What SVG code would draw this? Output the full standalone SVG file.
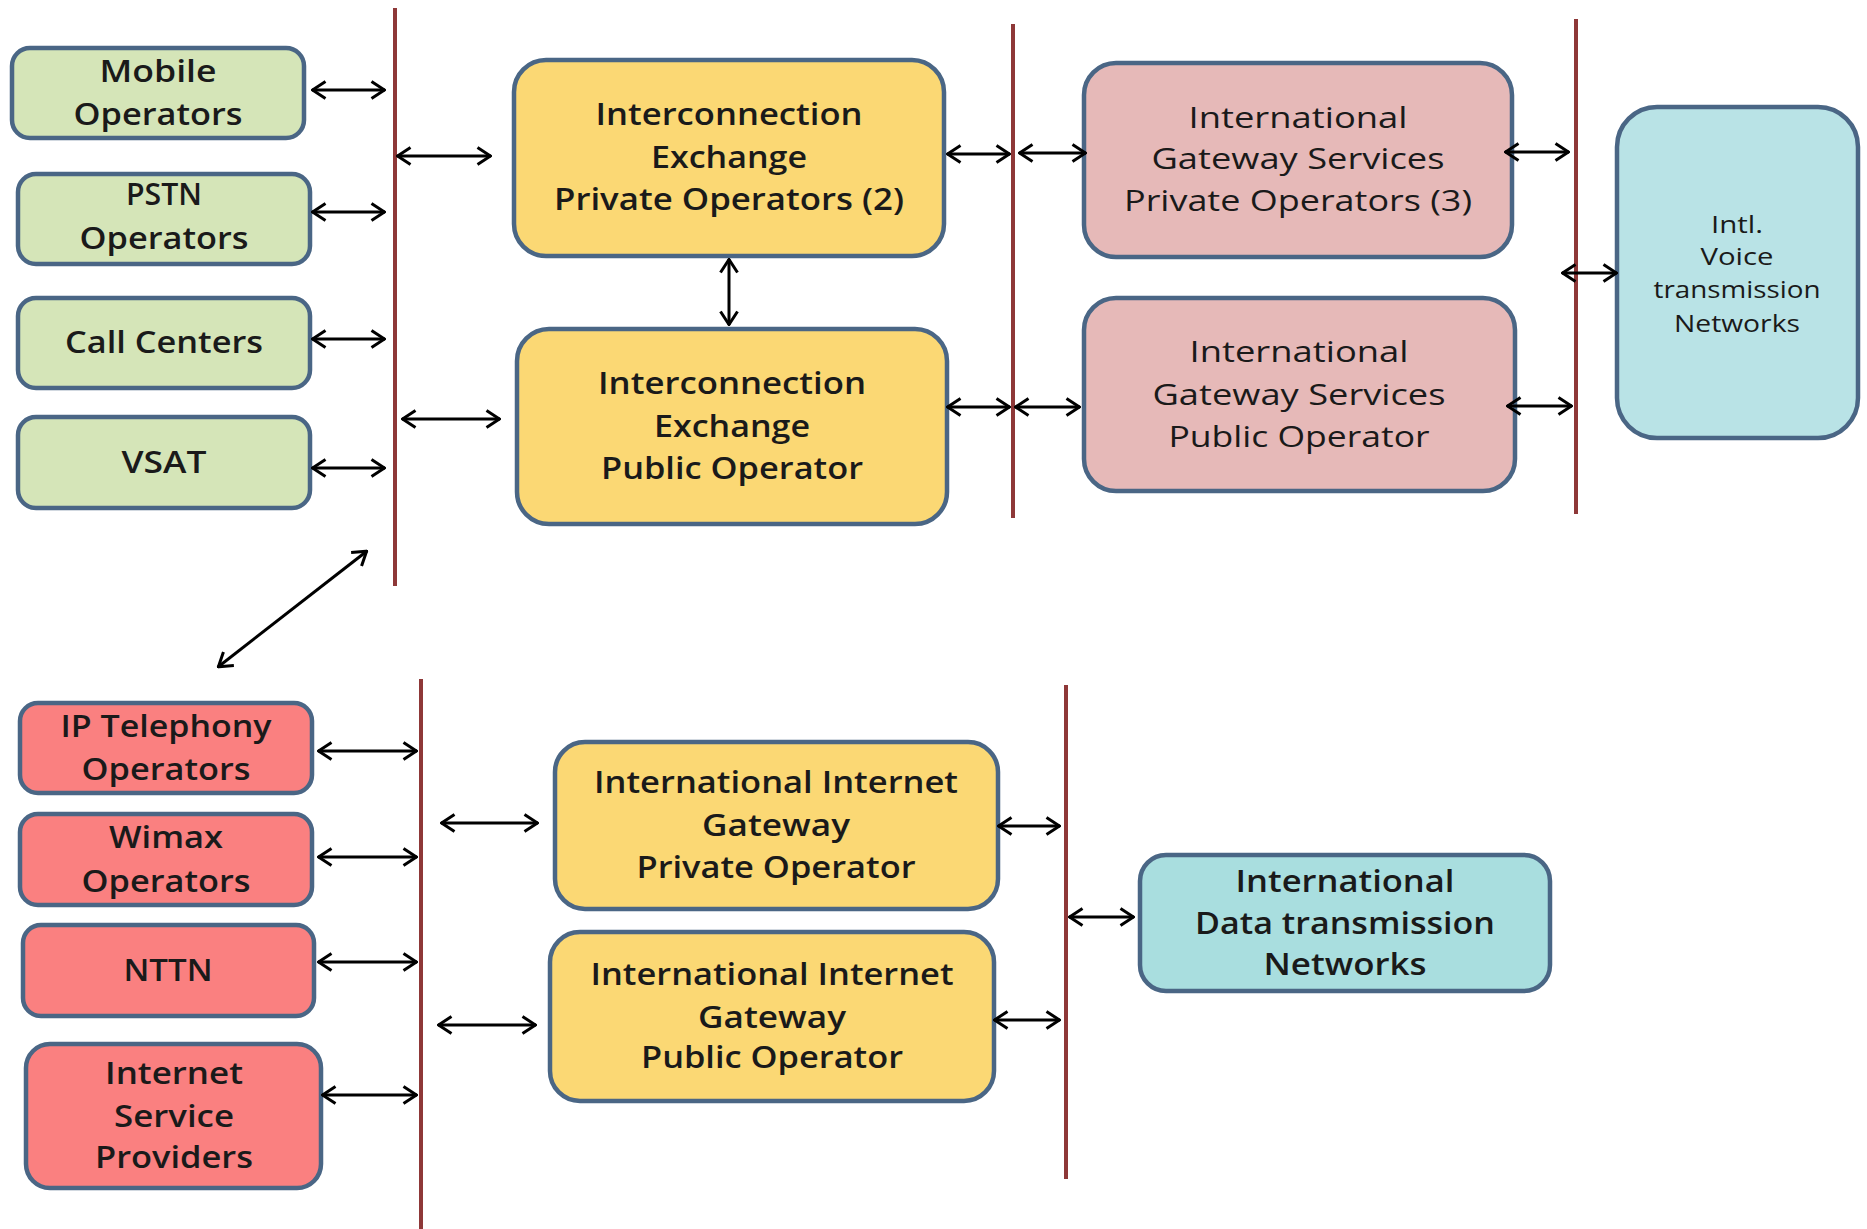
<svg xmlns="http://www.w3.org/2000/svg" width="1867" height="1229" viewBox="0 0 1867 1229">
<defs>
<style>
.box{stroke:#4A6685;stroke-width:4.5}
.g{fill:#D5E5B8}.y{fill:#FBD874}.p{fill:#E6B9B8}.t{fill:#B9E3E6}.t2{fill:#A9DEDF}.r{fill:#FA8080}
.bus{stroke:#8E3838;stroke-width:4;fill:none}
.c line{stroke:#000;stroke-width:3;marker-start:url(#ah);marker-end:url(#ah)}
text{font-family:"Open Sans","Liberation Sans",sans-serif;font-size:30px;font-weight:600;fill:#1a1a1a;text-anchor:middle}
text.n{font-weight:500;font-size:30px}
text.s{font-size:24px;font-weight:500}
</style>
<marker id="ah" viewBox="0 0 16 20" refX="15" refY="10" markerWidth="16" markerHeight="20" orient="auto-start-reverse" markerUnits="userSpaceOnUse">
<path d="M1.5,1.5 L14.5,10 L1.5,18.5" fill="none" stroke="#000" stroke-width="3"/>
</marker>
</defs>
<rect width="1867" height="1229" fill="#fff"/>

<g id="buses">
<line class="bus" x1="395" y1="8" x2="395" y2="586"/>
<line class="bus" x1="1013" y1="24" x2="1013" y2="518"/>
<line class="bus" x1="1576" y1="19" x2="1576" y2="514"/>
<line class="bus" x1="421" y1="679" x2="421" y2="1229"/>
<line class="bus" x1="1066" y1="685" x2="1066" y2="1179"/>
</g>

<g id="mobile"><rect class="box g" x="12" y="48" width="292" height="90" rx="18"/>
<text x="158" y="82" textLength="117" lengthAdjust="spacingAndGlyphs">Mobile</text>
<text x="158" y="125" textLength="169" lengthAdjust="spacingAndGlyphs">Operators</text></g>
<g id="pstn"><rect class="box g" x="18" y="174" width="292" height="90" rx="18"/>
<text x="164" y="205" textLength="76" lengthAdjust="spacingAndGlyphs">PSTN</text>
<text x="164" y="249" textLength="169" lengthAdjust="spacingAndGlyphs">Operators</text></g>
<g id="callcenters"><rect class="box g" x="18" y="298" width="292" height="90" rx="18"/>
<text x="164" y="353" textLength="198" lengthAdjust="spacingAndGlyphs">Call Centers</text></g>
<g id="vsat"><rect class="box g" x="18" y="417" width="292" height="91" rx="18"/>
<text x="164" y="473" textLength="85" lengthAdjust="spacingAndGlyphs">VSAT</text></g>

<g id="ix-private"><rect class="box y" x="514" y="60" width="430" height="196" rx="32"/>
<text x="729" y="125" textLength="267" lengthAdjust="spacingAndGlyphs">Interconnection</text>
<text x="729" y="168" textLength="156" lengthAdjust="spacingAndGlyphs">Exchange</text>
<text x="729" y="210" textLength="350" lengthAdjust="spacingAndGlyphs">Private Operators (2)</text></g>
<g id="ix-public"><rect class="box y" x="517" y="329" width="430" height="195" rx="32"/>
<text x="732" y="394" textLength="268" lengthAdjust="spacingAndGlyphs">Interconnection</text>
<text x="732" y="437" textLength="156" lengthAdjust="spacingAndGlyphs">Exchange</text>
<text x="732" y="479" textLength="262" lengthAdjust="spacingAndGlyphs">Public Operator</text></g>

<g id="igs-private"><rect class="box p" x="1084" y="63" width="428" height="194" rx="32"/>
<text class="n" x="1298" y="128" textLength="219" lengthAdjust="spacingAndGlyphs">International</text>
<text class="n" x="1298" y="169" textLength="293" lengthAdjust="spacingAndGlyphs">Gateway Services</text>
<text class="n" x="1298" y="211" textLength="348" lengthAdjust="spacingAndGlyphs">Private Operators (3)</text></g>
<g id="igs-public"><rect class="box p" x="1084" y="298" width="431" height="193" rx="32"/>
<text class="n" x="1299" y="362" textLength="219" lengthAdjust="spacingAndGlyphs">International</text>
<text class="n" x="1299" y="405" textLength="293" lengthAdjust="spacingAndGlyphs">Gateway Services</text>
<text class="n" x="1299" y="447" textLength="261" lengthAdjust="spacingAndGlyphs">Public Operator</text></g>

<g id="intl-voice"><rect class="box t" x="1617" y="107" width="241" height="331" rx="40"/>
<text class="s" x="1737" y="233" textLength="52" lengthAdjust="spacingAndGlyphs">Intl.</text>
<text class="s" x="1737" y="265" textLength="73" lengthAdjust="spacingAndGlyphs">Voice</text>
<text class="s" x="1737" y="298" textLength="167" lengthAdjust="spacingAndGlyphs">transmission</text>
<text class="s" x="1737" y="332" textLength="126" lengthAdjust="spacingAndGlyphs">Networks</text></g>

<g id="ip-telephony"><rect class="box r" x="20" y="703" width="292" height="90" rx="18"/>
<text x="166" y="737" textLength="211" lengthAdjust="spacingAndGlyphs">IP Telephony</text>
<text x="166" y="780" textLength="169" lengthAdjust="spacingAndGlyphs">Operators</text></g>
<g id="wimax"><rect class="box r" x="20" y="814" width="292" height="91" rx="18"/>
<text x="166" y="848" textLength="114" lengthAdjust="spacingAndGlyphs">Wimax</text>
<text x="166" y="892" textLength="169" lengthAdjust="spacingAndGlyphs">Operators</text></g>
<g id="nttn"><rect class="box r" x="23" y="925" width="291" height="91" rx="18"/>
<text x="168" y="981" textLength="89" lengthAdjust="spacingAndGlyphs">NTTN</text></g>
<g id="isp"><rect class="box r" x="26" y="1044" width="295" height="144" rx="24"/>
<text x="174" y="1084" textLength="138" lengthAdjust="spacingAndGlyphs">Internet</text>
<text x="174" y="1127" textLength="120" lengthAdjust="spacingAndGlyphs">Service</text>
<text x="174" y="1168" textLength="158" lengthAdjust="spacingAndGlyphs">Providers</text></g>

<g id="iig-private"><rect class="box y" x="555" y="742" width="443" height="167" rx="30"/>
<text x="776" y="793" textLength="364" lengthAdjust="spacingAndGlyphs">International Internet</text>
<text x="776" y="836" textLength="148" lengthAdjust="spacingAndGlyphs">Gateway</text>
<text x="776" y="878" textLength="279" lengthAdjust="spacingAndGlyphs">Private Operator</text></g>
<g id="iig-public"><rect class="box y" x="550" y="932" width="444" height="169" rx="30"/>
<text x="772" y="985" textLength="363" lengthAdjust="spacingAndGlyphs">International Internet</text>
<text x="772" y="1028" textLength="148" lengthAdjust="spacingAndGlyphs">Gateway</text>
<text x="772" y="1068" textLength="262" lengthAdjust="spacingAndGlyphs">Public Operator</text></g>

<g id="intl-data"><rect class="box t2" x="1140" y="855" width="410" height="136" rx="26"/>
<text x="1345" y="892" textLength="219" lengthAdjust="spacingAndGlyphs">International</text>
<text x="1345" y="934" textLength="300" lengthAdjust="spacingAndGlyphs">Data transmission</text>
<text x="1345" y="975" textLength="163" lengthAdjust="spacingAndGlyphs">Networks</text></g>

<g id="connectors" class="c">
<line x1="312" y1="90" x2="385" y2="90"/>
<line x1="312" y1="212" x2="385" y2="212"/>
<line x1="312" y1="339" x2="385" y2="339"/>
<line x1="312" y1="468" x2="385" y2="468"/>
<line x1="397" y1="156" x2="491" y2="156"/>
<line x1="402" y1="419" x2="500" y2="419"/>
<line x1="367" y1="551" x2="218" y2="667"/>
<line x1="729" y1="259" x2="729" y2="325"/>
<line x1="947" y1="154" x2="1010" y2="154"/>
<line x1="1019" y1="153" x2="1086" y2="153"/>
<line x1="947" y1="407" x2="1010" y2="407"/>
<line x1="1015" y1="407" x2="1080" y2="407"/>
<line x1="1505" y1="152" x2="1569" y2="152"/>
<line x1="1507" y1="406" x2="1572" y2="406"/>
<line x1="1562" y1="273" x2="1617" y2="273"/>
<line x1="318" y1="751" x2="417" y2="751"/>
<line x1="318" y1="857" x2="417" y2="857"/>
<line x1="318" y1="962" x2="417" y2="962"/>
<line x1="322" y1="1095" x2="417" y2="1095"/>
<line x1="441" y1="823" x2="538" y2="823"/>
<line x1="438" y1="1025" x2="536" y2="1025"/>
<line x1="998" y1="826" x2="1060" y2="826"/>
<line x1="994" y1="1020" x2="1060" y2="1020"/>
<line x1="1069" y1="917" x2="1134" y2="917"/>
</g>
</svg>
